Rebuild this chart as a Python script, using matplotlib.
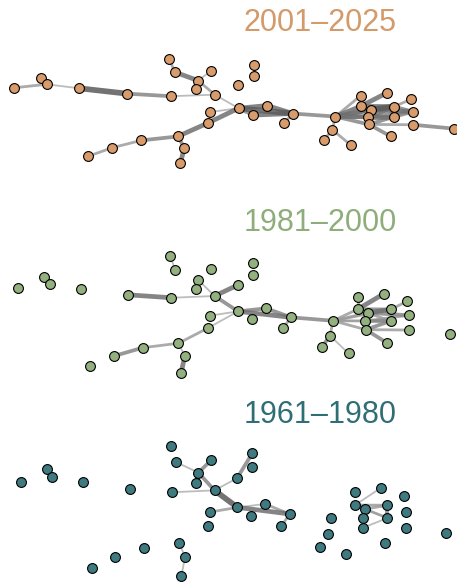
import matplotlib.pyplot as plt

# node layout (shared by all three periods), normalised units
node_x = [0.000, 0.062, 0.074, 0.147, 0.256, 0.356, 0.456, 0.353, 0.365, 0.448,
          0.418, 0.413, 0.446, 0.440, 0.372, 0.387, 0.378, 0.289, 0.222, 0.168,
          0.545, 0.545, 0.509, 0.510, 0.543, 0.575, 0.633, 0.613, 0.730, 0.723,
          0.704, 0.766, 0.787, 0.848, 0.901, 0.787, 0.810, 0.863, 0.906, 0.805,
          0.863, 0.806, 0.906, 0.856, 1.000]
node_y = [0.725, 0.821, 0.759, 0.721, 0.669, 0.644, 0.659, 1.000, 0.877, 0.890,
          0.795, 0.715, 0.492, 0.385, 0.256, 0.148, 0.000, 0.218, 0.146, 0.064,
          0.944, 0.838, 0.752, 0.528, 0.462, 0.554, 0.477, 0.382, 0.448, 0.321,
          0.223, 0.169, 0.648, 0.679, 0.613, 0.546, 0.515, 0.544, 0.495, 0.446,
          0.446, 0.372, 0.369, 0.256, 0.331]

# edges as (source, target, weight)
edges_2001 = [(0, 2, 2), (1, 2, 1), (2, 3, 1), (3, 4, 5), (4, 5, 3), (5, 6, 1),
              (7, 8, 2), (8, 10, 4), (9, 10, 1), (10, 6, 2), (6, 23, 1), (12, 23, 1),
              (13, 23, 4), (13, 14, 4), (14, 15, 3), (15, 16, 4), (14, 17, 3),
              (17, 18, 2), (18, 19, 2), (23, 25, 4), (23, 26, 5), (23, 24, 3),
              (24, 26, 4), (25, 26, 4), (26, 27, 2), (26, 28, 3), (28, 29, 2),
              (29, 30, 2), (29, 31, 2), (28, 32, 2), (28, 35, 4), (28, 36, 4),
              (28, 37, 3), (28, 39, 4), (28, 41, 3), (28, 40, 3), (35, 33, 4),
              (35, 32, 2), (35, 37, 4), (36, 37, 5), (36, 38, 4), (37, 34, 2),
              (39, 37, 4), (39, 40, 4), (41, 40, 3), (40, 38, 3), (37, 38, 3),
              (41, 42, 2), (42, 44, 3), (41, 43, 3), (39, 38, 3)]
edges_1981 = [(4, 5, 4), (5, 6, 1), (7, 8, 1), (10, 6, 1), (6, 22, 4), (6, 23, 3),
              (12, 23, 1), (13, 23, 1), (13, 14, 2), (14, 17, 2), (17, 18, 3),
              (14, 15, 1), (15, 16, 4), (23, 25, 3), (23, 26, 4), (25, 26, 3),
              (26, 27, 2), (26, 28, 3), (28, 29, 2), (29, 30, 3), (29, 31, 1),
              (28, 35, 2), (28, 36, 2), (28, 39, 2), (28, 41, 2), (28, 40, 1),
              (28, 37, 2), (35, 32, 2), (35, 33, 4), (36, 37, 4), (35, 37, 3),
              (37, 34, 2), (36, 38, 3), (39, 40, 3), (41, 40, 3), (41, 42, 2),
              (41, 43, 3), (39, 38, 2), (36, 40, 2)]
edges_1961 = [(5, 6, 1), (8, 10, 1), (10, 9, 3), (10, 6, 3), (6, 22, 1), (22, 20, 3),
              (6, 23, 5), (12, 23, 2), (14, 15, 1), (15, 16, 1), (23, 25, 1),
              (23, 26, 4), (25, 26, 2), (26, 27, 2), (35, 33, 1), (35, 37, 2),
              (36, 37, 2), (37, 40, 3), (36, 40, 2), (41, 40, 1), (39, 41, 1),
              (35, 40, 1)]

periods = ["2001\u20132025", "1981\u20132000", "1961\u20131980"]
title_colors = ["#D39A6A", "#8FAD7B", "#2F6E74"]
node_colors = ["#D89C6C", "#93B07F", "#3F7A80"]
all_edges = [edges_2001, edges_1981, edges_1961]

W, H = 457, 584
# panel extents in pixels: left, right, top, bottom
panels = [(14, 454.3, 59.3, 163), (17.7, 449.7, 256, 373.3), (20.7, 445.7, 446, 576)]
title_y = [23, 223, 415]

fig = plt.figure(figsize=(W / 100, H / 100), dpi=100)
fig.patch.set_facecolor("white")

for k in range(3):
    x0, x1, yt, yb = panels[k]
    ax = fig.add_axes([x0 / W, 1 - yb / H, (x1 - x0) / W, (yb - yt) / H])
    ax.set_xlim(0, 1)
    ax.set_ylim(0, 1)
    ax.axis("off")

    for s, t, w in sorted(all_edges[k], key=lambda e: e[2]):
        g = 0.78 - 0.085 * w
        ax.plot([node_x[s], node_x[t]], [node_y[s], node_y[t]],
                color=(g, g, g), lw=0.6 + 0.7 * w, alpha=0.85,
                solid_capstyle="butt", zorder=1, clip_on=False)

    ax.scatter(node_x, node_y, s=50, c=node_colors[k], edgecolors="black",
               linewidths=0.8, zorder=3, clip_on=False)

    fig.text(320 / W, 1 - title_y[k] / H, periods[k], color=title_colors[k],
             fontsize=22, family="Liberation Sans", ha="center", va="center")

fig.savefig("out.png", dpi=100)
